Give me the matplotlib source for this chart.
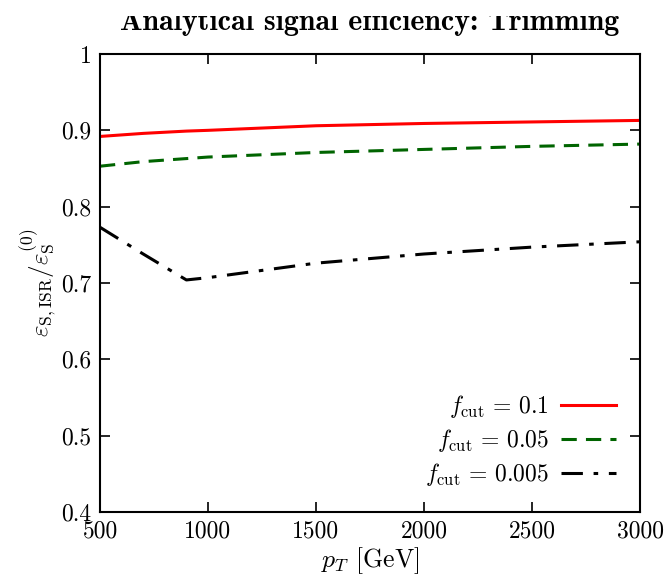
import matplotlib
matplotlib.use("Agg")
import matplotlib.pyplot as plt
from matplotlib.patches import Rectangle

plt.rcParams['font.family'] = 'cmr10'
plt.rcParams['mathtext.fontset'] = 'cm'
plt.rcParams['axes.formatter.use_mathtext'] = True

pt = [500, 700, 900, 1000, 1500, 2000, 2500, 3000]
eff_01 = [0.892, 0.896, 0.899, 0.900, 0.906, 0.909, 0.911, 0.913]
eff_005 = [0.853, 0.859, 0.863, 0.865, 0.871, 0.875, 0.879, 0.882]
eff_0005 = [0.773, 0.738, 0.704, 0.707, 0.726, 0.738, 0.747, 0.754]
labels = [r'$f_{\rm cut}\,=\,0.1$', r'$f_{\rm cut}\,=\,0.05$', r'$f_{\rm cut}\,=\,0.005$']
xticks = [500, 1000, 1500, 2000, 2500, 3000]
yticks = [0.4, 0.5, 0.6, 0.7, 0.8, 0.9, 1.0]
yticklabels = ['0.4', '0.5', '0.6', '0.7', '0.8', '0.9', '1']

fig = plt.figure(figsize=(6.67, 5.76), dpi=100)
ax = fig.add_axes([100/667, 1-512/576, 540/667, 458/576])

ax.plot(pt, eff_01, color='#ff0000', lw=2.2, label=labels[0])
ax.plot(pt, eff_005, color='#006400', lw=2.2, dashes=(5, 3), label=labels[1])
ax.plot(pt, eff_0005, color='black', lw=2.2, dashes=(7, 3.5, 1.5, 3.5), label=labels[2])

ax.set_xlim(500, 3000)
ax.set_ylim(0.4, 1.0)
ax.set_xticks(xticks)
ax.set_xticklabels([str(v) for v in xticks])
ax.set_yticks(yticks)
ax.set_yticklabels(yticklabels)
ax.tick_params(direction='in', top=True, right=True, labelsize=17, length=7, width=1.2, pad=6)
for s in ax.spines.values():
    s.set_linewidth(1.5)

ax.set_xlabel(r'$p_T$ [GeV]', fontsize=18.5, labelpad=2)
ax.set_ylabel(r'$\varepsilon_{\rm S,ISR}/\varepsilon_{\rm S}^{(0)}$', fontsize=18, labelpad=2)

ax.legend(loc='lower right', frameon=False, markerfirst=False, fontsize=17,
          handlelength=2.35, borderaxespad=0.6, labelspacing=0.3, handletextpad=0.5)

fig.text(370/667, 1-30/576, 'Analytical signal efficiency: Trimming', ha='center', va='baseline',
         fontsize=21.5, family='cmb10')
fig.add_artist(Rectangle((0, 1-16/576), 1, 16/576, transform=fig.transFigure,
                         facecolor='white', edgecolor='none', zorder=10))

fig.savefig('out.png', dpi=100)
